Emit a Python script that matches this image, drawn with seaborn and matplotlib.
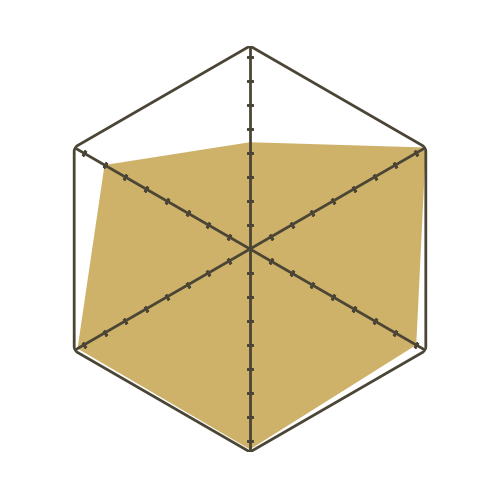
import numpy as np
import pandas as pd
import matplotlib
matplotlib.use("Agg")
import matplotlib.pyplot as plt
import seaborn as sns

# six spokes, clockwise from the top
axes_names = ['A', 'B', 'C', 'D', 'E', 'F']
values = [4.45, 8.46, 8.0, 8.35, 8.3, 7.0]
tick_values = [1, 2, 3, 4, 5, 6, 7, 8]
r_max = 8.46

line_color = '#4a4535'
fill_color = '#cfb26a'

sns.set_style("white")

fig = plt.figure(figsize=(5, 5), dpi=100)
ax = fig.add_axes([0.094, 0.096, 0.812, 0.812], projection='polar')
ax.set_theta_zero_location('N')
ax.set_theta_direction(-1)
ax.set_ylim(0, r_max)
ax.grid(False)
ax.set_xticks([])
ax.set_yticks([])
ax.spines['polar'].set_visible(False)

angles = np.linspace(0, 2 * np.pi, len(axes_names), endpoint=False)
df = pd.DataFrame({'axis': axes_names, 'angle': angles, 'value': values})

# filled data polygon
closed_a = np.append(df['angle'], df['angle'].iloc[0])
closed_v = np.append(df['value'], df['value'].iloc[0])
ax.fill(closed_a, closed_v, color=fill_color, lw=0, zorder=1)

# hexagon frame
ax.plot(closed_a, [r_max] * len(closed_a), color=line_color, lw=2, zorder=3,
        solid_joinstyle='miter')

# spokes and tick marks
for a in angles:
    ax.plot([a, a], [0, r_max], color=line_color, lw=2, zorder=3)
    deg = np.degrees(a)
    ax.plot([a] * len(tick_values), tick_values, ls='none',
            marker=(2, 2, 90 - deg), markersize=4.5, mew=2,
            color=line_color, zorder=4)

fig.savefig('out.png', dpi=100, facecolor='white')
